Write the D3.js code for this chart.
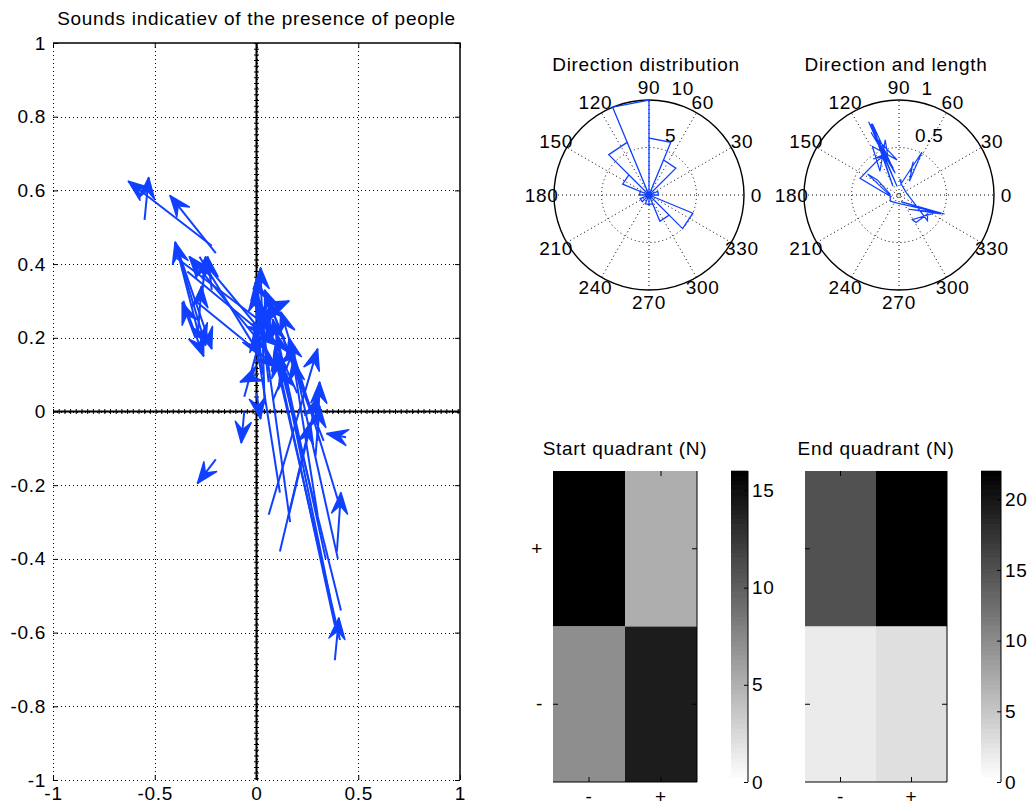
<!DOCTYPE html>
<html>
<head>
<meta charset="utf-8">
<script src="https://cdn.jsdelivr.net/npm/d3@7"></script>
<style>
  body { margin: 0; background: #fff; }
  text { font-family: "Liberation Sans", Arial, sans-serif; font-size: 19px; fill: #000; letter-spacing: 0.7px; }
</style>
</head>
<body>
<svg id="fig" width="1033" height="807"></svg>
<script>
// ---- data ----
// each arrow: start (x0, y0) -> end (x1, y1)
const arrowX0 = [0.41, -0.22, 0.385, -0.30, 0.36, 0.03, 0.415, 0.06, 0.34, -0.28, 0.40, 0.04, 0.40, 0.20, 0.165, 0.30,
  0.33, 0.115, 0.28, -0.22, 0.00, 0.00, -0.20, 0.44, -0.20, -0.06, -0.40, 0.00, -0.34, -0.36, -0.30, -0.39,
  -0.40, -0.25, -0.28, 0.08, -0.27, -0.29, -0.55, 0.29, 0.30, 0.395, 0.385, 0.06, 0.08, 0.115, -0.06, 0.155];
const arrowY0 = [-0.62, 0.33, -0.58, 0.20, -0.50, 0.10, -0.54, 0.08, -0.40, 0.20, -0.40, 0.02, -0.24, 0.05, -0.30, -0.28,
  -0.08, -0.22, -0.02, 0.45, 0.10, 0.20, 0.43, -0.07, -0.13, 0.00, 0.42, 0.05, 0.38, 0.30, 0.30, 0.44,
  0.46, 0.40, 0.42, 0.28, 0.30, 0.20, 0.52, -0.12, -0.08, -0.38, -0.675, -0.28, 0.03, -0.38, 0.04, -0.29];
const arrowX1 = [0.09, -0.24, 0.09, -0.365, 0.08, -0.01, 0.12, 0.00, 0.10, -0.40, 0.16, 0.02, 0.12, 0.00, 0.02, 0.18,
  0.06, -0.01, 0.04, -0.63, -0.08, -0.33, -0.425, 0.345, -0.29, -0.075, 0.08, 0.02, 0.10, -0.26, 0.10, -0.25,
  -0.22, 0.05, 0.02, 0.16, -0.25, -0.27, -0.53, 0.31, 0.31, 0.415, 0.405, 0.30, 0.19, 0.265, 0.06, 0.30];
const arrowY1 = [0.15, 0.42, 0.17, 0.295, 0.25, 0.33, 0.12, 0.36, 0.21, 0.46, 0.20, 0.39, 0.27, 0.30, 0.28, 0.14,
  0.30, 0.22, 0.33, 0.625, 0.08, 0.42, 0.586, -0.06, -0.195, -0.085, 0.22, -0.02, 0.18, 0.15, 0.12, 0.18,
  0.17, 0.20, 0.15, 0.30, 0.42, 0.34, 0.635, 0.015, 0.08, -0.22, -0.56, 0.17, 0.175, -0.03, 0.28, 0.04];

const mainTicksX = [-1, -0.5, 0, 0.5, 1];
const mainTicksY = [-1, -0.8, -0.6, -0.4, -0.2, 0, 0.2, 0.4, 0.6, 0.8, 1];

// rose counts, 16 bins of 22.5 deg starting at 0 deg
const roseCounts = [1, 0, 4, 6, 10, 6, 3, 1, 0, 1, 0, 1, 1, 3, 5, 0];
const roseRings = [5, 10];
const lengthRings = [0.5, 1];
const polarAngles = [0, 30, 60, 90, 120, 150, 180, 210, 240, 270, 300, 330];

// quadrant counts, rows: y "+" then "-", columns: x "-" then "+"
const quadRows = ["+", "-"];
const quadCols = ["-", "+"];
const startGrid = [[16, 5], [7, 14]];
const endGrid = [[15, 22], [2, 3]];
const startBarTicks = [0, 5, 10, 15];
const endBarTicks = [0, 5, 10, 15, 20];

const blue = "#1040ff";
const svg = d3.select("#fig");
const crisp = v => Math.round(v) + 0.5;

// ---- main arrow plot ----
const main = { left: 53, right: 460, top: 43, bottom: 780 };
const x = d3.scaleLinear().domain([-1, 1]).range([main.left, main.right]);
const y = d3.scaleLinear().domain([-1, 1]).range([main.bottom, main.top]);

const gm = svg.append("g");

gm.selectAll(".gridx")
  .data(mainTicksX.filter(d => d !== 1))
  .join("line")
  .attr("x1", d => crisp(x(d))).attr("x2", d => crisp(x(d)))
  .attr("y1", main.top).attr("y2", main.bottom)
  .attr("stroke", "#000").attr("stroke-dasharray", "1,3");

gm.selectAll(".gridy")
  .data(mainTicksY.filter(d => d !== 1))
  .join("line")
  .attr("x1", main.left).attr("x2", main.right)
  .attr("y1", d => crisp(y(d))).attr("y2", d => crisp(y(d)))
  .attr("stroke", "#000").attr("stroke-dasharray", "1,3");

// top and right edges are solid
gm.append("path")
  .attr("d", `M${main.left},${main.top}H${main.right}V${main.bottom}`)
  .attr("fill", "none").attr("stroke", "#000").attr("stroke-width", 1.5);

const fmt = d => String(d);

const axB = gm.append("g")
  .attr("transform", `translate(0,${main.bottom})`)
  .call(d3.axisBottom(x).tickValues(mainTicksX).tickSize(-5).tickPadding(7).tickFormat(fmt));
const axT = gm.append("g")
  .attr("transform", `translate(0,${main.top})`)
  .call(d3.axisTop(x).tickValues(mainTicksX).tickSize(-5).tickFormat(""));
const axL = gm.append("g")
  .attr("transform", `translate(${main.left},0)`)
  .call(d3.axisLeft(y).tickValues(mainTicksY).tickSize(-5).tickPadding(7).tickFormat(fmt));
const axR = gm.append("g")
  .attr("transform", `translate(${main.right},0)`)
  .call(d3.axisRight(y).tickValues(mainTicksY).tickSize(-5).tickFormat(""));
[axB, axT, axL, axR].forEach(a => a.select(".domain").remove());

// zero lines with small tick marks
gm.append("line")
  .attr("x1", x(0)).attr("x2", x(0)).attr("y1", main.top).attr("y2", main.bottom)
  .attr("stroke", "#000").attr("stroke-width", 2);
gm.append("line")
  .attr("x1", x(0)).attr("x2", x(0)).attr("y1", main.top).attr("y2", main.bottom)
  .attr("stroke", "#000").attr("stroke-width", 5).attr("stroke-dasharray", "1,4.7");
gm.append("line")
  .attr("x1", main.left).attr("x2", main.right).attr("y1", y(0)).attr("y2", y(0))
  .attr("stroke", "#000").attr("stroke-width", 2);
gm.append("line")
  .attr("x1", main.left).attr("x2", main.right).attr("y1", y(0)).attr("y2", y(0))
  .attr("stroke", "#000").attr("stroke-width", 5).attr("stroke-dasharray", "1,4.7");

gm.append("text")
  .attr("x", (main.left + main.right) / 2).attr("y", 25)
  .attr("text-anchor", "middle")
  .text("Sounds indicatiev of the presence of people");

// arrows
const I = d3.range(arrowX0.length);
const headLen = 21, headHalf = 8, notch = 13;
function headPoints(i) {
  const px0 = x(arrowX0[i]), py0 = y(arrowY0[i]);
  const px1 = x(arrowX1[i]), py1 = y(arrowY1[i]);
  const a = Math.atan2(py1 - py0, px1 - px0);
  const ux = Math.cos(a), uy = Math.sin(a);
  const bx = px1 - ux * headLen, by = py1 - uy * headLen;
  const nx = px1 - ux * notch, ny = py1 - uy * notch;
  return [[px1, py1], [bx - uy * headHalf, by + ux * headHalf], [nx, ny], [bx + uy * headHalf, by - ux * headHalf]];
}

const ga = gm.append("g");
ga.selectAll(".shaft")
  .data(I)
  .join("line")
  .attr("x1", i => x(arrowX0[i])).attr("y1", i => y(arrowY0[i]))
  .attr("x2", i => x(arrowX1[i])).attr("y2", i => y(arrowY1[i]))
  .attr("stroke", blue).attr("stroke-width", 2);
ga.selectAll(".head")
  .data(I)
  .join("polygon")
  .attr("points", i => headPoints(i).map(p => p.join(",")).join(" "))
  .attr("fill", blue).attr("stroke", blue).attr("stroke-width", 1.5).attr("stroke-linejoin", "round");

// ---- polar plots ----
const R = 95;
const rad = d => d * Math.PI / 180;

function polarFrame(cx, cy, rmax, rings, title) {
  const g = svg.append("g");
  const r = d3.scaleLinear().domain([0, rmax]).range([0, R]);
  g.append("circle").attr("cx", cx).attr("cy", cy).attr("r", R)
    .attr("fill", "#fff").attr("stroke", "#000").attr("stroke-width", 1.4);
  g.selectAll(".spoke")
    .data(polarAngles.filter(d => d < 180))
    .join("line")
    .attr("x1", d => cx - R * Math.cos(rad(d))).attr("y1", d => cy + R * Math.sin(rad(d)))
    .attr("x2", d => cx + R * Math.cos(rad(d))).attr("y2", d => cy - R * Math.sin(rad(d)))
    .attr("stroke", "#000").attr("stroke-dasharray", "1,3");
  g.selectAll(".ring")
    .data(rings.slice(0, -1))
    .join("circle")
    .attr("cx", cx).attr("cy", cy).attr("r", d => r(d))
    .attr("fill", "none").attr("stroke", "#000").attr("stroke-dasharray", "1,3");
  g.selectAll(".alab")
    .data(polarAngles)
    .join("text")
    .attr("x", d => cx + 1.13 * R * Math.cos(rad(d)))
    .attr("y", d => cy - 1.13 * R * Math.sin(rad(d)))
    .attr("text-anchor", "middle").attr("dominant-baseline", "central")
    .text(d => d);
  const rinc = rings[0];
  g.selectAll(".rlab")
    .data(rings)
    .join("text")
    .attr("x", d => cx + r(d + rinc / 20) * Math.cos(rad(82)) + 9)
    .attr("y", d => cy - r(d + rinc / 20) * Math.sin(rad(82)) - 4)
    .text(d => d);
  g.append("text")
    .attr("x", cx - 3).attr("y", 71)
    .attr("text-anchor", "middle")
    .text(title);
  return { g, r };
}

// rose: direction distribution
{
  const cx = 649, cy = 195;
  const { g, r } = polarFrame(cx, cy, roseRings[roseRings.length - 1], roseRings, "Direction distribution");
  const bw = 360 / roseCounts.length;
  const pts = [];
  roseCounts.forEach((c, k) => {
    pts.push([0, 0], [k * bw, c], [(k + 1) * bw, c], [0, 0]);
  });
  const line = d3.line()
    .x(p => cx + r(p[1]) * Math.cos(rad(p[0])))
    .y(p => cy - r(p[1]) * Math.sin(rad(p[0])));
  g.append("path").attr("d", line(pts))
    .attr("fill", "none").attr("stroke", blue).attr("stroke-width", 1.3);
}

// direction and length of each arrow, joined in data order
{
  const cx = 899, cy = 195;
  const { g, r } = polarFrame(cx, cy, lengthRings[lengthRings.length - 1], lengthRings, "Direction and length");
  const pts = I.map(i => {
    const dx = arrowX1[i] - arrowX0[i], dy = arrowY1[i] - arrowY0[i];
    return [Math.atan2(dy, dx), Math.hypot(dx, dy)];
  });
  const line = d3.line()
    .x(p => cx + r(p[1]) * Math.cos(p[0]))
    .y(p => cy - r(p[1]) * Math.sin(p[0]));
  g.append("path").attr("d", line(pts))
    .attr("fill", "none").attr("stroke", blue).attr("stroke-width", 1.2);
}

// ---- quadrant maps ----
function quadrantMap(o) {
  const top = 471, bottom = 782;
  const g = svg.append("g");
  const cxs = d3.scaleBand().domain(quadCols).range([o.left, o.right]);
  const cys = d3.scaleBand().domain(quadRows).range([top, bottom]);
  const levels = d3.range(64).map(i => {
    const c = Math.round(255 * (1 - i / 63));
    return `rgb(${c},${c},${c})`;
  });
  const shade = d3.scaleQuantize().domain([0, o.maxV]).range(levels);
  const cells = [];
  o.grid.forEach((row, ri) => row.forEach((v, ci) => cells.push({ r: quadRows[ri], c: quadCols[ci], v })));
  g.selectAll(".cell")
    .data(cells)
    .join("rect")
    .attr("x", d => cxs(d.c)).attr("y", d => cys(d.r))
    .attr("width", cxs.bandwidth()).attr("height", cys.bandwidth())
    .attr("fill", d => shade(d.v));

  const aB = g.append("g").attr("transform", `translate(0,${bottom})`)
    .call(d3.axisBottom(cxs).tickSize(-5).tickPadding(8));
  const aT = g.append("g").attr("transform", `translate(0,${top})`)
    .call(d3.axisTop(cxs).tickSize(-5).tickFormat(""));
  const aL = g.append("g").attr("transform", `translate(${o.left},0)`)
    .call(d3.axisLeft(cys).tickSize(-5).tickPadding(10).tickFormat(o.yLabels ? (d => d) : ""));
  const aR = g.append("g").attr("transform", `translate(${o.right},0)`)
    .call(d3.axisRight(cys).tickSize(-5).tickFormat(""));
  [aB, aT, aL, aR].forEach(a => a.select(".domain").remove());
  g.append("path")
    .attr("d", `M${o.left},${bottom}H${o.right}V${top}`)
    .attr("fill", "none").attr("stroke", "#000");

  g.append("text")
    .attr("x", (o.left + o.right) / 2).attr("y", 455)
    .attr("text-anchor", "middle")
    .text(o.title);

  // colorbar
  const cb = d3.scaleLinear().domain([0, o.maxV]).range([bottom, top]);
  const step = (bottom - top) / levels.length;
  g.selectAll(".band")
    .data(levels)
    .join("rect")
    .attr("x", o.barLeft).attr("width", o.barW)
    .attr("y", (d, i) => bottom - (i + 1) * step - 0.3)
    .attr("height", step + 0.6)
    .attr("fill", d => d);
  const aC = g.append("g").attr("transform", `translate(${o.barLeft + o.barW},0)`)
    .call(d3.axisRight(cb).tickValues(o.barTicks).tickSize(-4).tickPadding(4));
  aC.select(".domain").remove();
  g.append("line")
    .attr("x1", o.barLeft + o.barW).attr("x2", o.barLeft + o.barW)
    .attr("y1", top).attr("y2", bottom)
    .attr("stroke", "#000");
}

quadrantMap({ left: 553, right: 697, grid: startGrid, maxV: 16, barLeft: 731, barW: 17,
  barTicks: startBarTicks, title: "Start quadrant (N)", yLabels: true });
quadrantMap({ left: 805, right: 947, grid: endGrid, maxV: 22, barLeft: 981, barW: 20,
  barTicks: endBarTicks, title: "End quadrant (N)", yLabels: false });
</script>
</body>
</html>
